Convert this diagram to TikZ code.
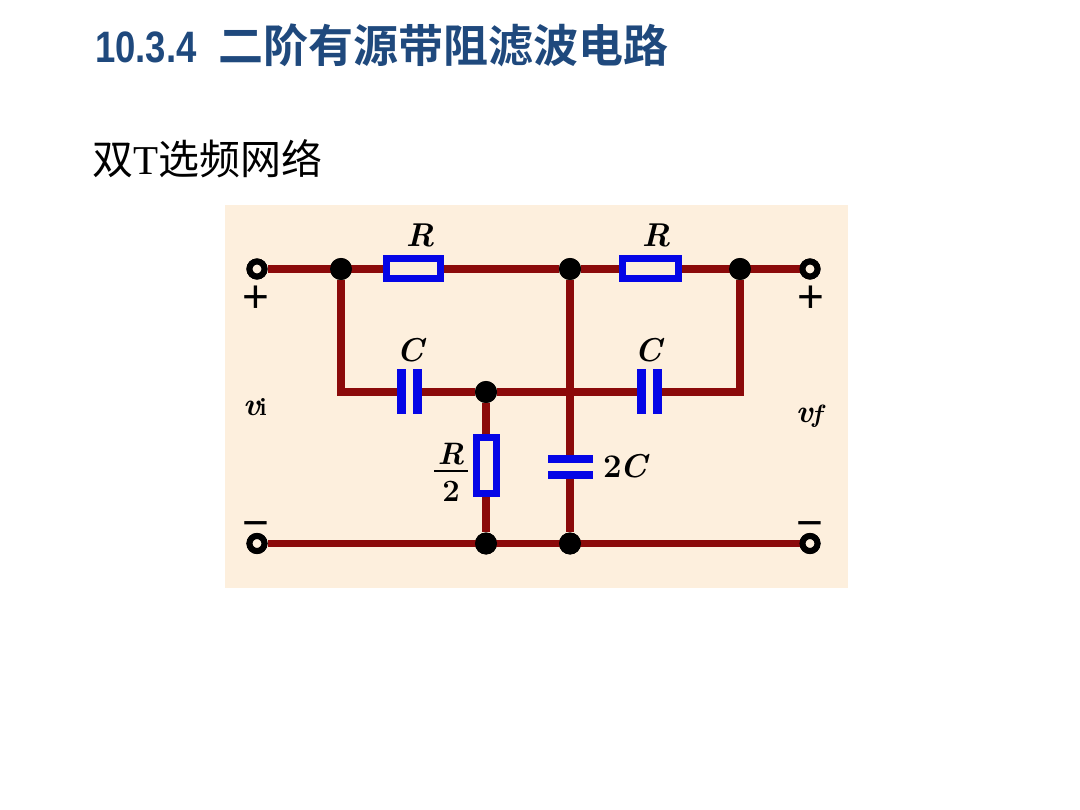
\documentclass[tikz,border=0pt]{standalone}
\usepackage{fontspec}
\newfontfamily\cjkbold[BoldFont={Noto Sans CJK SC Bold}]{Noto Sans CJK SC}
\newfontfamily\cjk{Noto Sans CJK SC}
\newfontfamily\arialf{Liberation Sans}
\newfontfamily\timesf{Liberation Serif}
\definecolor{titleblue}{HTML}{1F497D}
\definecolor{panel}{HTML}{FDEFDD}
\definecolor{wire}{HTML}{8B0A0A}
\definecolor{compblue}{HTML}{0505E6}
\tikzset{
  x=1pt,y=-1pt,
  conn/.style={draw=wire,line width=7.5pt},
  dotnode/.style={circle,fill=black,inner sep=0pt,minimum size=22pt},
  term/.style={circle,draw=black,fill=panel,line width=6pt,inner sep=0pt,minimum size=15pt},
  resh/.style={rectangle,draw=compblue,fill=panel,line width=7pt,inner sep=0pt,minimum width=54pt,minimum height=20pt},
  resv/.style={rectangle,draw=compblue,fill=panel,line width=7pt,inner sep=0pt,minimum width=20pt,minimum height=56pt},
  platev/.style={rectangle,fill=compblue,inner sep=0pt,minimum width=9pt,minimum height=45pt},
  plateh/.style={rectangle,fill=compblue,inner sep=0pt,minimum width=45pt,minimum height=8pt},
  lab/.style={inner sep=0pt,font=\fontsize{33}{33}\selectfont\bfseries\itshape},
  sig/.style={inner sep=0pt,font=\fontsize{32}{32}\selectfont\bfseries\itshape},
  sym/.style={inner sep=0pt,font=\arialf\fontsize{46}{46}\selectfont},
}
\begin{document}
\begin{tikzpicture}
\useasboundingbox (0,0) rectangle (1080,810);
\fill[white] (0,0) rectangle (1080,810);
\fill[panel] (225,205) rectangle (848,588);

\node[anchor=base west,inner sep=0pt,text=titleblue] (numt) at (95,63) {\arialf\bfseries\fontsize{44}{44}\selectfont\scalebox{0.83}[1]{10.3.4}};
\node[anchor=base west,inner sep=0pt,text=titleblue] (titl) at (218,63) {\cjkbold\bfseries\fontsize{45}{45}\selectfont 二阶有源带阻滤波电路};
\node[anchor=base west,inner sep=0pt] (subt) at (92,175) {\fontsize{41}{41}\selectfont{\cjk 双}{\timesf T}{\cjk 选频网络}};

% nodes
\node[term] (t1) at (257,269) {};
\node[term] (t2) at (810,269) {};
\node[term] (t3) at (257,543.5) {};
\node[term] (t4) at (810,543.5) {};
\node[dotnode] (j1) at (341,269) {};
\node[dotnode] (j2) at (570,269) {};
\node[dotnode] (j3) at (740,269) {};
\node[dotnode] (j4) at (486,392) {};
\node[dotnode] (j5) at (486,543.5) {};
\node[dotnode] (j6) at (570,543.5) {};
\coordinate (c1) at (341,392);
\coordinate (c2) at (740,392);

\node[resh] (r1) at (413.5,269) {};
\node[resh,minimum width=56pt] (r2) at (650,269) {};
\node[resv] (r3) at (486,465.5) {};

\node[platev] (c1a) at (401.5,392) {};
\node[platev] (c1b) at (417.5,392) {};
\node[platev] (c2a) at (641.5,392) {};
\node[platev] (c2b) at (657.5,392) {};
\node[plateh] (c3a) at (570,459) {};
\node[plateh] (c3b) at (570,475) {};

% wires
\draw[conn] (t1) -- (r1);
\draw[conn] (r1) -- (j2);
\draw[conn] (j2) -- (r2);
\draw[conn] (r2) -- (t2);
\draw[conn] (t3) -- (t4);
\draw[conn,line join=miter] (j1) -- (c1) -- (c1a);
\draw[conn] (c1b) -- (j4);
\draw[conn] (j4) -- (c2a);
\draw[conn,line join=miter] (c2b) -- (c2) -- (j3);
\draw[conn] (j4) -- (r3);
\draw[conn] (r3) -- (j5);
\draw[conn] (j2) -- (c3a);
\draw[conn] (c3b) -- (j6);

% redraw on top of wires
\node[term] at (t1) {};
\node[term] at (t2) {};
\node[term] at (t3) {};
\node[term] at (t4) {};
\node[dotnode] at (j1) {};
\node[dotnode] at (j2) {};
\node[dotnode] at (j3) {};
\node[dotnode] at (j4) {};
\node[dotnode] at (j5) {};
\node[dotnode] at (j6) {};
\node[resh] at (r1) {};
\node[resh,minimum width=56pt] at (r2) {};
\node[resv] at (r3) {};
\node[platev] at (c1a) {};
\node[platev] at (c1b) {};
\node[platev] at (c2a) {};
\node[platev] at (c2b) {};
\node[plateh] at (c3a) {};
\node[plateh] at (c3b) {};

% labels
\node[lab] (lr1) at (420,235) {R};
\node[lab] (lr2) at (656,235) {R};
\node[lab] (lc1) at (410,350) {C};
\node[lab] (lc2) at (648,350) {C};
\node[lab] (l2c) at (625,466) {{\upshape 2}\kern-2pt C};
\node[lab,font=\fontsize{31}{31}\selectfont\bfseries\itshape] (lr3n) at (451,454) {R};
\node[lab,font=\fontsize{31}{31}\selectfont\bfseries] (lr3d) at (451,491) {2};
\draw[line width=2pt,black] (434,471.5) -- (468,471.5);
\node[sig] (vi) at (255,407) {v\kern-1pt{\upshape\fontsize{25}{25}\selectfont i}};
\node[sig] (vf) at (809,416) {v\kern-1pt{\fontsize{25}{25}\selectfont f}};
\node[sym] (p1) at (256,299) {+};
\node[sym] (p2) at (811,299) {+};
\node[sym] (m1) at (256,530) {−};
\node[sym] (m2) at (810,530) {−};
\end{tikzpicture}
\end{document}
